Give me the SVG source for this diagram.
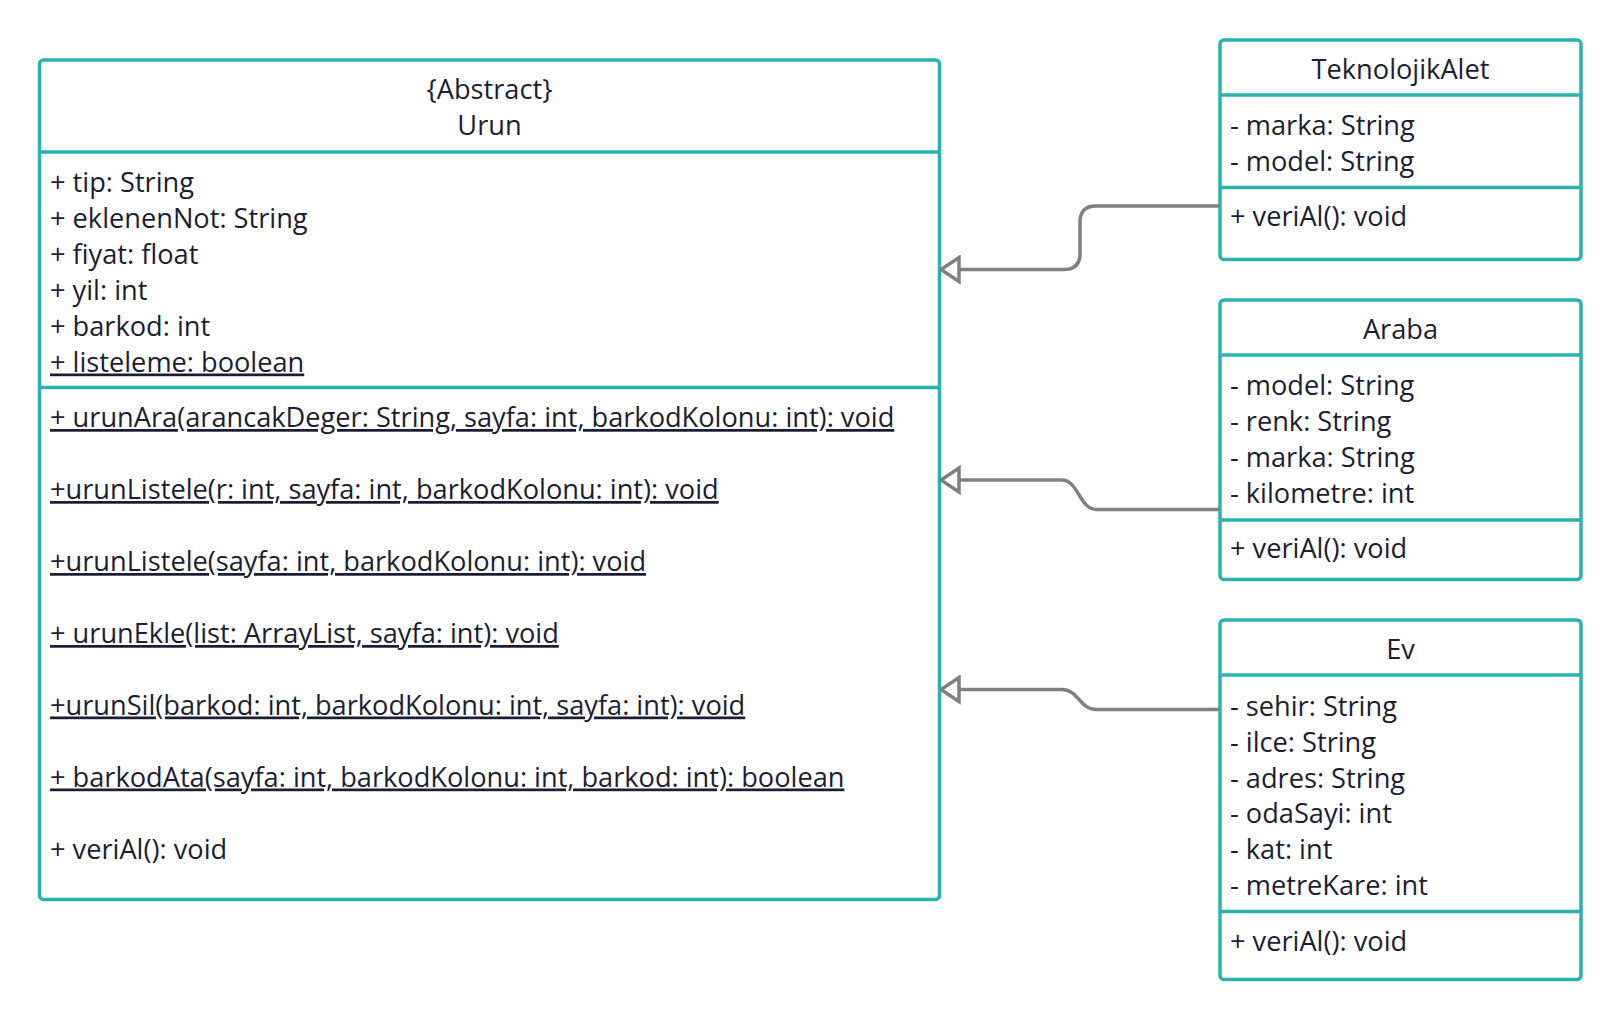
<svg xmlns="http://www.w3.org/2000/svg" width="1620" height="1020" viewBox="0 0 1620 1020">
  <defs>
    <style>
      .box { fill: #ffffff; stroke: #2ab3ae; stroke-width: 3.5; }
      .div { stroke: #2ab3ae; stroke-width: 3.5; fill: none; }
      .t { font-family: "Open Sans", "Noto Sans", "DejaVu Sans", sans-serif; font-size: 27.2px; fill: #1b1e33; }
      .c { text-anchor: middle; }
      .u { text-decoration: underline; }
      .conn { fill: none; stroke: #808080; stroke-width: 3.5; }
    </style>
    <!-- hollow triangle for generalization, drawn pointing along +x -->
    <marker id="inherit" viewBox="0 0 23 30" refX="21" refY="15" markerWidth="23" markerHeight="30" markerUnits="userSpaceOnUse" orient="auto">
      <path d="M3,3 L21,15 L3,27 Z" fill="#ffffff" stroke="#808080" stroke-width="3.5" stroke-linejoin="miter"/>
    </marker>
  </defs>
  <rect width="1620" height="1020" fill="#ffffff"/>

  <!-- abstract base class -->
  <g id="urun">
    <rect class="box" x="39.5" y="60" width="900" height="839.5" rx="4"/>
    <line class="div" x1="39.5" y1="152" x2="939.5" y2="152"/>
    <line class="div" x1="39.5" y1="387.5" x2="939.5" y2="387.5"/>
    <text class="t c" x="489.5" y="99">{Abstract}</text>
    <text class="t c" x="489.5" y="135">Urun</text>
    <text class="t" x="50" y="192">+ tip: String</text>
    <text class="t" x="50" y="228">+ eklenenNot: String</text>
    <text class="t" x="50" y="263.5">+ fiyat: float</text>
    <text class="t" x="50" y="299.5">+ yil: int</text>
    <text class="t" x="50" y="335.5">+ barkod: int</text>
    <text class="t u" x="50" y="371.5">+ listeleme: boolean</text>
    <text class="t u" x="50" y="427">+ urunAra(arancakDeger: String, sayfa: int, barkodKolonu: int): void</text>
    <text class="t u" x="50" y="499">+urunListele(r: int, sayfa: int, barkodKolonu: int): void</text>
    <text class="t u" x="50" y="571">+urunListele(sayfa: int, barkodKolonu: int): void</text>
    <text class="t u" x="50" y="643">+ urunEkle(list: ArrayList, sayfa: int): void</text>
    <text class="t u" x="50" y="714.5">+urunSil(barkod: int, barkodKolonu: int, sayfa: int): void</text>
    <text class="t u" x="50" y="786.5">+ barkodAta(sayfa: int, barkodKolonu: int, barkod: int): boolean</text>
    <text class="t" x="50" y="858.5">+ veriAl(): void</text>
  </g>

  <g id="teknolojikAlet">
    <rect class="box" x="1220" y="40" width="361" height="219.5" rx="4"/>
    <line class="div" x1="1220" y1="95" x2="1581" y2="95"/>
    <line class="div" x1="1220" y1="187.5" x2="1581" y2="187.5"/>
    <text class="t c" x="1400.5" y="79">TeknolojikAlet</text>
    <text class="t" x="1230" y="135">- marka: String</text>
    <text class="t" x="1230" y="171">- model: String</text>
    <text class="t" x="1230" y="226">+ veriAl(): void</text>
  </g>

  <g id="araba">
    <rect class="box" x="1220" y="300" width="361" height="279.5" rx="4"/>
    <line class="div" x1="1220" y1="355" x2="1581" y2="355"/>
    <line class="div" x1="1220" y1="520" x2="1581" y2="520"/>
    <text class="t c" x="1400.5" y="339">Araba</text>
    <text class="t" x="1230" y="395">- model: String</text>
    <text class="t" x="1230" y="431">- renk: String</text>
    <text class="t" x="1230" y="467">- marka: String</text>
    <text class="t" x="1230" y="503">- kilometre: int</text>
    <text class="t" x="1230" y="558">+ veriAl(): void</text>
  </g>

  <g id="ev">
    <rect class="box" x="1220" y="620" width="361" height="359.5" rx="4"/>
    <line class="div" x1="1220" y1="675" x2="1581" y2="675"/>
    <line class="div" x1="1220" y1="911.5" x2="1581" y2="911.5"/>
    <text class="t c" x="1400.5" y="659">Ev</text>
    <text class="t" x="1230" y="716">- sehir: String</text>
    <text class="t" x="1230" y="751.5">- ilce: String</text>
    <text class="t" x="1230" y="787.5">- adres: String</text>
    <text class="t" x="1230" y="823">- odaSayi: int</text>
    <text class="t" x="1230" y="859">- kat: int</text>
    <text class="t" x="1230" y="895">- metreKare: int</text>
    <text class="t" x="1230" y="951">+ veriAl(): void</text>
  </g>

  <!-- generalization connectors -->
  <g id="connectors">
    <path class="conn" marker-end="url(#inherit)" d="M1220,206 H1096 Q1080,206 1080,222 V253.5 Q1080,269.5 1064,269.5 H941"/>
    <path class="conn" marker-end="url(#inherit)" d="M1220,509.5 H1096 C1080,509.5 1078,480 1062,480 H941"/>
    <path class="conn" marker-end="url(#inherit)" d="M1220,709.5 H1096 C1080,709.5 1078,689.5 1062,689.5 H941"/>
  </g>
</svg>
